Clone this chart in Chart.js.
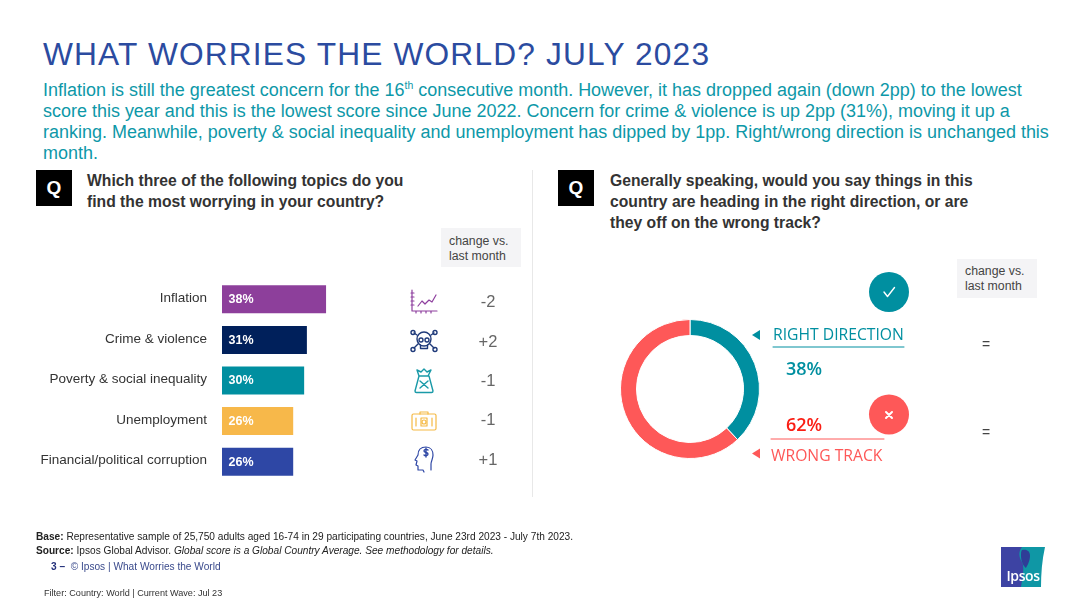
<!DOCTYPE html>
<html><head><meta charset="utf-8">
<script src="https://cdn.jsdelivr.net/npm/chart.js@4"></script>
<style>
html,body{margin:0;padding:0;background:#fff;overflow:hidden}
body{width:1080px;height:607px;position:relative;font-family:"Liberation Sans",Arial,sans-serif}
.t{position:absolute;white-space:nowrap}
canvas{position:absolute}
svg{position:absolute;overflow:visible}
.q{position:absolute;width:36px;height:36px;background:#000;color:#fff;font-weight:bold;font-size:19px;line-height:35px;text-align:center;top:170px}
.qt{font-weight:bold;font-size:15.7px;line-height:20.8px;color:#333;top:171px}
.chg{background:#f4f4f6;color:#444;font-size:12.3px;line-height:15.4px;padding:6px 0 0 8px;box-sizing:border-box;width:80px;height:39px}
.d{color:#666;font-size:16.5px;width:40px;text-align:center}
.foot{font-size:10.15px;color:#222}
</style></head><body>
<div class="t" style="left:43px;top:34.5px;font-size:31.7px;letter-spacing:1.15px;color:#2b4ba0;line-height:38px">WHAT WORRIES THE WORLD? JULY 2023</div>
<div class="t" style="left:43px;top:79.5px;font-size:17.98px;line-height:21.3px;color:#0d98a8">Inflation is still the greatest concern for the 16<sup style="font-size:10.5px;line-height:0">th</sup> consecutive month. However, it has dropped again (down 2pp) to the lowest<br>score this year and this is the lowest score since June 2022. Concern for crime &amp; violence is up 2pp (31%), moving it up a<br>ranking. Meanwhile, poverty &amp; social inequality and unemployment has dipped by 1pp. Right/wrong direction is unchanged this<br>month.</div>

<div class="q" style="left:36px">Q</div>
<div class="t qt" style="left:87px">Which three of the following topics do you<br>find the most worrying in your country?</div>
<div class="q" style="left:558px">Q</div>
<div class="t qt" style="left:610px">Generally speaking, would you say things in this<br>country are heading in the right direction, or are<br>they off on the wrong track?</div>
<div style="position:absolute;left:532px;top:170px;width:1px;height:327px;background:#e8e8e8"></div>

<div class="t chg" style="left:441px;top:228px">change vs.<br>last month</div>
<div class="t chg" style="left:957px;top:259px;padding-top:5px">change vs.<br>last month</div>

<canvas id="bars" width="400" height="203" style="left:0;top:279px;width:400px;height:203px"></canvas>
<canvas id="ring" width="160" height="160" style="left:609.5px;top:309px;width:160px;height:160px"></canvas>

<svg id="ic" width="1080" height="607" style="left:0;top:0" fill="none" stroke-width="1.2" stroke-linecap="round" stroke-linejoin="round">
 <g stroke="#8e3f9e"><path d="M412 290v21h25M411 293h3M411 297h3M411 301h3M411 305h3M416 313v-2M421 313v-2M426 313v-2M431 313v-2M418 306l4-5 3 3 4-4 3 2 4-7"/></g>
 <g stroke="#1f3a7a" stroke-width="1.4"><circle cx="424" cy="339" r="7"/><circle cx="421" cy="340" r="2"/><circle cx="427" cy="340" r="2"/><path d="M420.5 345v3.5h7V345M417 335l-3-2M431 335l3-2M418 344l-4 4M430 344l4 4"/><circle cx="413" cy="332.5" r="2"/><circle cx="435" cy="332.5" r="2"/><circle cx="413" cy="349.5" r="2"/><circle cx="435" cy="349.5" r="2"/></g>
 <g stroke="#1a9aa8" stroke-width="1.4"><path d="M419 376l-4 15c0 1 .5 1.5 1.5 1.5h15c1 0 1.5-.5 1.5-1.5l-4-15zM419 376l-2-6 4 2 3-3 3 3 4-2-3 6M420 381l8 7M428 381l-8 7"/></g>
 <g stroke="#f5b944"><rect x="412" y="414" width="24" height="16" rx="1.5"/><path d="M420 414v-2h8v2M416 418v8M432 418v8M421 418h6v8h-6z"/><circle cx="424" cy="422" r="2"/></g>
 <g stroke="#2e47a5"><path d="M418 470v-4l-2-1 1-4-2-1 3-5c0-5 3-8 8-8 5 0 7 4 7 8 0 4-2 6-2 9v6M418 470h5l1 2"/><path d="M428 450c-1-1-4-1-4 1s4 1 4 3-3 2-4 1M426 448v9" stroke-width="1.4"/></g>
 <circle cx="889" cy="292" r="20" fill="#008fa0" stroke="none"/>
 <path d="M884 292l3.5 4.5 7-9" stroke="#fff" stroke-width="1.4"/>
 <circle cx="889" cy="414.5" r="20" fill="#fe5858" stroke="none"/>
 <path d="M886 412l6 6M892 412l-6 6" stroke="#fff" stroke-width="2"/>
 <path d="M760 330l-8 5 8 5z" fill="#008fa0" stroke="none"/>
 <path d="M760 448.5l-8 5 8 5z" fill="#fe5858" stroke="none"/>
 <path d="M773 347h131" stroke="#008fa0" stroke-width="1"/>
 <path d="M771 439h113" stroke="#fe5858" stroke-width="1"/>
 <path d="M1001 547H1045C1042 560 1041 574 1041 587H1001Z" fill="#0f97a5" stroke="none"/>
 <path d="M1001 547H1022C1018 552 1019 558 1022 562 1025 568 1022 580 1021 587H1001Z" fill="#3d43a3" stroke="none"/>
 <path d="M1022 550C1027 549 1030 551 1030 556 1030 561 1027 566 1026 568 1023 566 1021 560 1021 556 1021 553 1021 551 1022 550Z" fill="#2f3d97" stroke="none"/>
</svg>
<div class="t" style="left:1006.5px;top:566px;font-family:'Open Sans';font-weight:600;font-size:14px;color:#fff;line-height:20px;letter-spacing:-.4px">Ipsos</div>

<div id="changes"></div>

<div class="t" style="left:773px;top:323px;font-family:'Open Sans';font-size:15.7px;color:#008fa0;line-height:22px">RIGHT DIRECTION</div>
<div class="t" style="left:786px;top:357px;font-family:'Open Sans';font-weight:600;font-size:18px;color:#008fa0;line-height:22px">38%</div>
<div class="t" style="left:786px;top:413px;font-family:'Open Sans';font-weight:600;font-size:18px;color:#fa1e14;line-height:22px">62%</div>
<div class="t" style="left:771px;top:444px;font-family:'Open Sans';font-size:15.7px;color:#fe5858;line-height:22px">WRONG TRACK</div>

<div class="t foot" style="left:36px;top:531px;line-height:12px"><b>Base:</b> Representative sample of 25,750 adults aged 16-74 in 29 participating countries, June 23rd 2023 - July 7th 2023.</div>
<div class="t foot" style="left:36px;top:545px;line-height:12px"><b>Source:</b> Ipsos Global Advisor. <i>Global score is a Global Country Average. See methodology for details.</i></div>
<div class="t foot" style="left:51px;top:561px;line-height:12px;color:#3a4a8c"><b style="color:#23307a">3 –</b>&nbsp; © Ipsos | What Worries the World</div>
<div class="t" style="left:44px;top:587px;font-size:9.1px;line-height:12px;color:#333">Filter: Country: World | Current Wave: Jul 23</div>

<script>
const topics = ["Inflation","Crime & violence","Poverty & social inequality","Unemployment","Financial/political corruption"];
const topicValues = [38,31,30,26,26];
const topicColors = ["#8d3f9b","#00205b","#008fa0","#f7b84a","#2e47a5"];
const topicChanges = ["-2","+2","-1","-1","+1"];
const changeRows = [301,341,380,419,459];
const directionLabels = ["Right direction","Wrong track"];
const directionValues = [38,62];
const directionColors = ["#008fa0","#fe5858"];
const directionChanges = ["=","="];

Chart.defaults.animation = false;

const valueLabels = {
  id:"valueLabels",
  afterDatasetsDraw(chart){
    const c = chart.ctx, m = chart.getDatasetMeta(0);
    c.save();
    c.font = "bold 12.5px 'Liberation Sans'";
    c.fillStyle = "#fff";
    c.textBaseline = "middle";
    m.data.forEach((b,i)=>c.fillText(topicValues[i]+"%", b.base+6.5, b.y+0.5));
    c.restore();
  }
};

new Chart(document.getElementById("bars"),{
  type:"bar",
  data:{labels:topics,datasets:[{data:topicValues,backgroundColor:topicColors,barPercentage:0.69,categoryPercentage:1}]},
  options:{
    indexAxis:"y",responsive:false,
    layout:{padding:0,autoPadding:false},
    plugins:{legend:{display:false},tooltip:{enabled:false}},
    scales:{
      x:{display:false,min:0,max:65},
      y:{
        afterFit(a){a.width=222;a.paddingTop=0;a.paddingBottom=0;},
        grid:{display:false,drawTicks:false},
        border:{display:false},
        ticks:{padding:15,labelOffset:-1,minRotation:0,maxRotation:0,color:"#333",font:{family:"Liberation Sans",size:13.5}}
      }
    }
  },
  plugins:[valueLabels]
});

new Chart(document.getElementById("ring"),{
  type:"doughnut",
  data:{labels:directionLabels,datasets:[{data:directionValues,backgroundColor:directionColors,borderColor:"#fff",borderWidth:1}]},
  options:{
    responsive:false,cutout:"77%",
    layout:{padding:10},
    plugins:{legend:{display:false},tooltip:{enabled:false}}
  }
});

const host = document.getElementById("changes");
topicChanges.forEach((v,i)=>{
  const e=document.createElement("div");
  e.className="t d"; e.textContent=v;
  e.style.left="468px"; e.style.top=(changeRows[i]-10)+"px"; e.style.lineHeight="20px";
  host.appendChild(e);
});
directionChanges.forEach((v,i)=>{
  const e=document.createElement("div");
  e.className="t d"; e.textContent=v; e.style.fontSize="14px"; e.style.color="#444";
  e.style.left="966px"; e.style.top=([344,432][i]-10)+"px"; e.style.lineHeight="20px";
  host.appendChild(e);
});
</script>
</body></html>
